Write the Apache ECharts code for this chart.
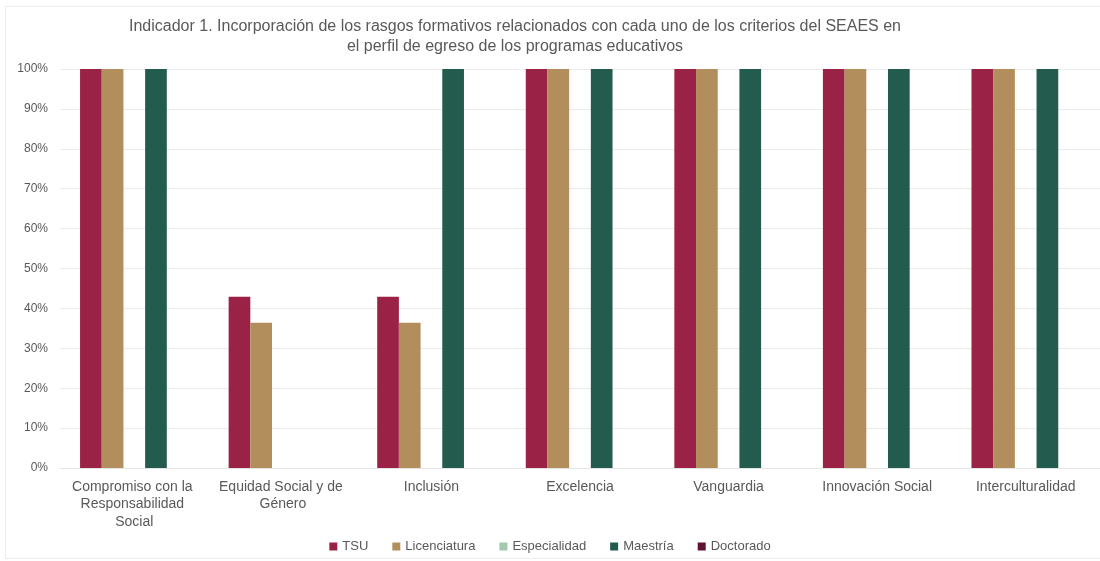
<!DOCTYPE html>
<html>
<head>
<meta charset="utf-8">
<script src="https://cdn.jsdelivr.net/npm/echarts@6/dist/echarts.min.js"></script>
<style>
  html, body { margin: 0; padding: 0; background: #fff; }
  #chart { width: 1100px; height: 561px; }
</style>
</head>
<body>
<div id="chart"></div>
<script>
// categorías del eje X
const categories = [
  'Compromiso con la Responsabilidad Social',
  'Equidad Social y de Género',
  'Inclusión',
  'Excelencia',
  'Vanguardia',
  'Innovación Social',
  'Interculturalidad'
]

// valores por nivel educativo (%)
const tsu = [100, 42.9, 42.9, 100, 100, 100, 100]
const licenciatura = [100, 36.4, 36.4, 100, 100, 100, 100]
const especialidad = [0, 0, 0, 0, 0, 0, 0]
const maestria = [100, 0, 100, 100, 100, 100, 100]
const doctorado = [0, 0, 0, 0, 0, 0, 0]

const seriesNames = ['TSU', 'Licenciatura', 'Especialidad', 'Maestría', 'Doctorado']
const seriesData = [tsu, licenciatura, especialidad, maestria, doctorado]
const colors = ['#9B2247', '#B38E5D', '#A3C9AE', '#235B4E', '#611232']

const textColor = '#595959'
const font = 'Liberation Sans, Arial, sans-serif'

const chart = echarts.init(document.getElementById('chart'))

const options = {
  animation: false,
  textStyle: { fontFamily: font },
  // marco del gráfico
  graphic: [
    {
      type: 'rect',
      shape: { x: 5.5, y: 6.5, width: 1100, height: 552 },
      style: { fill: 'none', stroke: '#ececec', lineWidth: 1 },
      silent: true
    }
  ],
  title: {
    text: 'Indicador 1. Incorporación de los rasgos formativos relacionados con cada uno de los criterios del SEAES en\nel perfil de egreso de los programas educativos',
    left: 510,
    top: 12,
    textAlign: 'center',
    textStyle: {
      fontFamily: font,
      fontSize: 16,
      fontWeight: 'normal',
      color: textColor,
      lineHeight: 20
    }
  },
  legend: {
    data: seriesNames,
    bottom: 3,
    left: 'center',
    icon: 'rect',
    itemWidth: 8,
    itemHeight: 8,
    itemGap: 24,
    textStyle: { fontFamily: font, fontSize: 13, color: textColor }
  },
  grid: {
    top: 69,
    left: 60,
    right: 0,
    bottom: 93,
    containLabel: false
  },
  xAxis: {
    type: 'category',
    data: categories,
    axisTick: { show: false },
    axisLine: { lineStyle: { color: '#e6e6e6' } },
    axisLabel: {
      color: textColor,
      fontSize: 14,
      fontFamily: font,
      interval: 0,
      margin: 10,
      lineHeight: 17.5,
      width: 136,
      overflow: 'break'
    }
  },
  yAxis: {
    type: 'value',
    min: 0,
    max: 100,
    interval: 10,
    axisLine: { show: false },
    axisTick: { show: false },
    splitLine: { lineStyle: { color: '#ebebeb' } },
    axisLabel: {
      color: textColor,
      fontSize: 12,
      fontFamily: font,
      margin: 12,
      formatter: '{value}%'
    }
  },
  series: seriesNames.map((name, i) => ({
    name: name,
    type: 'bar',
    data: seriesData[i],
    itemStyle: { color: colors[i] },
    barGap: '0%',
    barCategoryGap: '27%'
  }))
}

chart.setOption(options)
</script>
</body>
</html>
